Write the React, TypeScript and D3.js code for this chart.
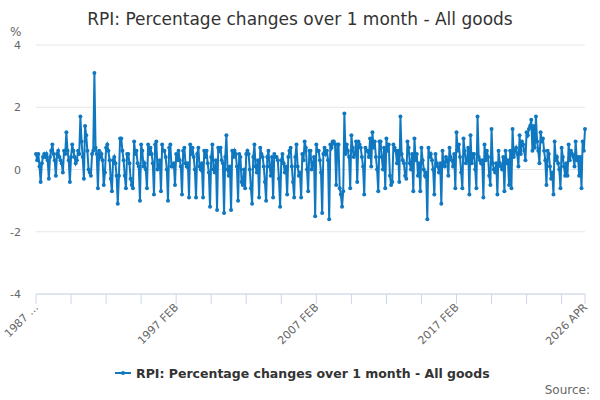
import React from "react";
import * as d3 from "d3";

const startYear = 1987;
const startMonth = 1; // Feb (0-based)
const values: number[] = [
  0.5,0.3,0.5,0.1,-0.4,0.2,0.4,0.5,0.4,0.5,0.3,
  -0.3,0.4,0.6,0.8,0.5,0.3,-0.2,0.5,0.6,0.4,0.3,0.2,
  -0.1,0.6,0.5,1.2,0.6,0.3,-0.4,0.4,0.8,0.6,0.4,0.2,
  0.3,0.6,0.5,1.7,0.9,0.4,-0.3,1.4,1.1,0.6,0.0,-0.1,
  -0.2,0.5,0.6,3.1,0.7,0.5,-0.6,0.6,0.4,0.5,0.3,-0.5,
  -0.1,0.7,0.8,0.6,0.3,-0.3,-0.7,0.3,0.4,0.2,-0.2,-1.1,
  -0.2,1.0,1.0,0.6,0.3,-0.2,-0.6,0.5,0.5,0.2,-0.3,-0.5,
  -0.6,0.9,0.5,0.6,0.2,0.1,-1.0,0.8,0.6,0.1,0.2,0.0,
  -0.6,0.8,0.5,0.7,0.5,0.2,-0.8,0.8,0.9,0.0,0.1,0.3,
  -0.7,0.8,0.6,0.6,0.4,0.0,-1.0,0.7,0.8,0.1,0.1,0.2,
  -0.5,0.5,0.3,0.6,0.3,0.1,-0.8,0.6,0.7,0.2,0.1,0.2,
  -0.9,0.8,0.5,0.7,0.4,0.0,-0.9,0.5,0.7,0.1,0.0,0.2,
  -0.9,0.6,0.4,0.6,0.2,-0.1,-1.2,0.4,0.8,0.0,-0.1,0.3,
  -1.3,0.7,0.6,0.7,0.3,0.2,-1.4,0.4,1.1,0.0,-0.2,0.1,
  -1.3,0.6,0.4,0.6,0.5,0.1,-1.0,0.5,0.4,-0.4,-0.5,0.0,
  -0.6,0.5,0.6,0.5,0.0,-0.6,-1.1,0.4,0.8,0.1,-0.1,0.3,
  -0.9,0.7,0.5,0.4,0.1,-0.4,-1.0,0.4,0.6,0.1,-0.2,0.4,
  -0.9,0.5,0.4,0.4,0.3,-0.3,-1.2,0.3,0.5,0.2,-0.1,0.1,
  -0.8,0.4,0.6,0.7,0.1,-0.4,-0.9,0.4,0.8,0.1,-0.2,-0.1,
  -0.9,0.5,0.3,0.9,0.7,0.0,-0.7,0.6,0.6,0.0,0.2,0.4,
  -1.5,0.8,0.6,0.6,0.3,-0.1,-1.4,0.5,0.7,0.5,0.6,0.3,
  -1.6,0.8,0.7,0.9,0.9,0.8,-0.5,0.8,0.8,-0.6,-0.8,-1.2,
  -0.7,1.8,0.5,0.8,0.6,0.4,-0.6,1.1,0.7,0.4,0.5,0.9,
  -0.4,0.9,0.8,0.7,0.4,0.1,-0.8,0.7,0.6,0.6,0.4,1.0,
  0.1,1.2,0.7,0.9,0.4,0.0,-0.7,0.9,0.9,0.4,0.0,0.7,
  -0.6,1.0,0.6,0.8,-0.2,-0.5,-0.4,0.8,0.7,0.6,0.2,0.6,
  -0.4,1.7,0.5,0.3,0.2,-0.2,-0.3,0.9,0.7,0.2,0.0,0.5,
  -0.7,1.0,0.3,0.5,-0.2,0.2,-0.7,0.7,0.3,0.0,-0.2,-0.1,
  -1.6,0.7,0.4,0.5,0.3,0.0,-0.8,0.5,0.2,0.1,-0.1,0.2,
  -1.1,0.6,0.2,0.1,0.4,0.3,-0.2,0.7,0.4,0.3,0.1,0.5,
  -0.6,1.2,0.6,0.8,0.4,-0.1,-0.6,1.0,0.6,0.2,0.3,0.7,
  -0.8,1.1,0.2,0.5,0.5,0.0,-0.6,1.7,0.4,0.3,0.2,0.3,
  -0.9,0.8,0.3,0.6,0.4,-0.2,-0.5,1.3,0.2,0.0,-0.1,0.2,
  -0.8,0.6,0.2,0.1,0.0,0.4,-0.7,0.6,0.2,0.3,-0.5,0.6,
  -0.6,1.3,0.4,0.6,0.7,0.5,0.1,1.1,0.5,0.9,0.8,0.6,
  0.3,1.2,1.1,1.3,1.4,1.6,0.6,1.4,0.7,1.7,0.9,0.6,
  0.2,1.2,0.9,1.0,0.6,0.3,-0.5,0.6,0.5,0.1,-0.3,-0.1,
  -0.8,0.9,0.3,0.4,0.2,0.0,-0.6,0.7,0.4,0.1,-0.2,0.2,
  -0.2,0.8,0.3,0.6,0.5,0.4,0.1,0.9,0.3,0.4,-0.2,0.4,
  -0.6,0.9,0.6,1.3,
];
const yTicks = [-4, -2, 0, 2, 4];
const MONTHS = ["JAN","FEB","MAR","APR","MAY","JUN","JUL","AUG","SEP","OCT","NOV","DEC"];
const labelIdx = [0, 120, 240, 360, values.length - 1];

function label(i: number) {
  const m = startMonth + i;
  const y = startYear + Math.floor(m / 12);
  if (i === 0) return `${y} …`;
  return `${y} ${MONTHS[m % 12]}`;
}

export default function App() {
  const W = 600, H = 400;
  const left = 36, right = 585, top = 45, bottom = 294;
  const x = d3.scaleLinear().domain([0, values.length - 1]).range([left, right]);
  const y = d3.scaleLinear().domain([-4, 4]).range([bottom, top]);
  const line = d3.line<number>().x((_, i) => x(i)).y((d) => y(d));
  const ticks = d3.range(0, values.length, 30).concat([values.length - 1]);
  const color = "#0f78c0";
  const font = "'DejaVu Sans', sans-serif";
  return (
    <svg width={W} height={H} style={{ position: "absolute", left: 0, top: 0, fontFamily: font }}>
      <text x={W / 2} y={25} textAnchor="middle" fontSize={17} fill="#333">RPI: Percentage changes over 1 month - All goods</text>
      <text x={10} y={36} fontSize={12} fill="#666">%</text>
      {yTicks.map((t) => (
        <g key={t}>
          <line x1={left} x2={right} y1={y(t)} y2={y(t)} stroke="#e6e6e6" />
          <text x={21} y={y(t) + 4} textAnchor="end" fontSize={11} fill="#666">{t}</text>
        </g>
      ))}
      <line x1={left} x2={right} y1={bottom} y2={bottom} stroke="#ccd6eb" />
      {ticks.map((t) => (
        <line key={t} x1={x(t)} x2={x(t)} y1={bottom} y2={bottom + 10} stroke="#ccd6eb" />
      ))}
      {labelIdx.map((i) => (
        <text key={i} transform={`translate(${x(i) + 3},${bottom + 14}) rotate(-45)`} textAnchor="end" fontSize={11} fill="#666">{label(i)}</text>
      ))}
      <path d={line(values) || ""} fill="none" stroke={color} strokeWidth={2} />
      {values.map((v, i) => (
        <circle key={i} cx={x(i)} cy={y(v)} r={2} fill={color} />
      ))}
      <line x1={115} x2={131} y1={373} y2={373} stroke={color} strokeWidth={2} />
      <circle cx={123} cy={373} r={2} fill={color} />
      <text x={136} y={378} fontSize={12.5} fontWeight="bold" fill="#333">RPI: Percentage changes over 1 month - All goods</text>
      <text x={590} y={394} textAnchor="end" fontSize={12} fill="#666">Source:</text>
    </svg>
  );
}
